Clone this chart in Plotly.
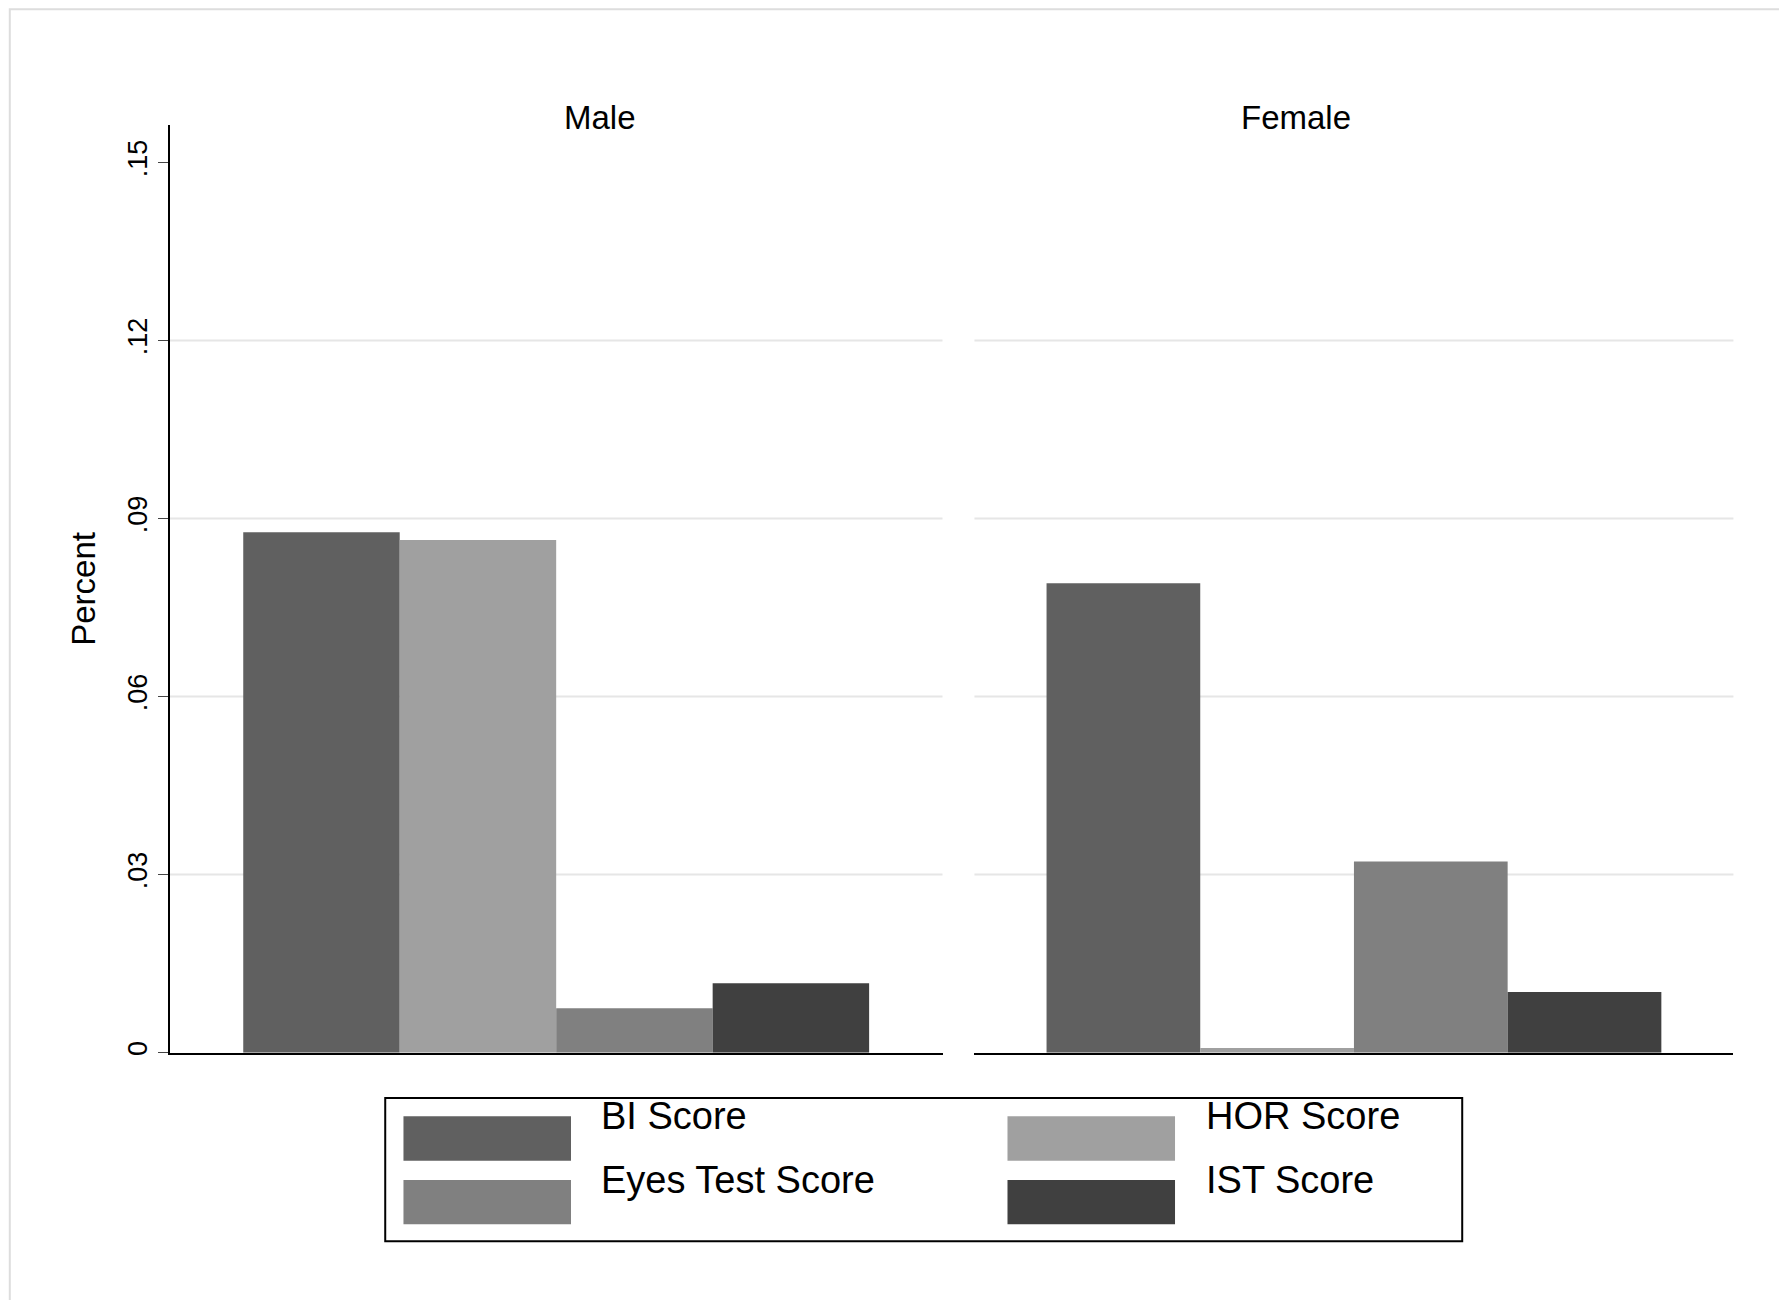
import plotly.graph_objects as go
from plotly.subplots import make_subplots

panels = ["Male", "Female"]
series = ["BI Score", "HOR Score", "Eyes Test Score", "IST Score"]
colors = ["#606060", "#a0a0a0", "#808080", "#404040"]
values = {
    "Male":   [0.0877, 0.0864, 0.0075, 0.0117],
    "Female": [0.0791, 0.0008, 0.0322, 0.0102],
}
tick_vals = [0, 0.03, 0.06, 0.09, 0.12, 0.15]
tick_text = ["0", ".03", ".06", ".09", ".12", ".15"]

W, H = 1568, 1141  # layout reference grid

fig = make_subplots(rows=1, cols=2, shared_yaxes=True, horizontal_spacing=0.018)
for c, p in enumerate(panels, start=1):
    for s, col, v in zip(series, colors, values[p]):
        fig.add_trace(go.Bar(x=[p], y=[v], name=s, marker_color=col,
                             marker_line_width=0, showlegend=False), row=1, col=c)

fig.update_layout(
    width=1787, height=1300, barmode="group", bargap=0.19, bargroupgap=0,
    plot_bgcolor="white", paper_bgcolor="white",
    font=dict(family="Liberation Sans, Arial", color="black"),
    margin=dict(l=0, r=0, t=0, b=0),
    xaxis=dict(domain=[142 / W, 820 / W]),
    xaxis2=dict(domain=[848 / W, 1514 / W]),
)
for ax in ["xaxis", "xaxis2"]:
    fig.layout[ax].update(showticklabels=False, showline=True, linecolor="black",
                          linewidth=1.5, ticks="", showgrid=False)
ydom = [1 - 919 / H, 1 - 103 / H]
fig.update_yaxes(range=[0, 0.1563], domain=ydom, showgrid=False, zeroline=False)
fig.layout.yaxis.update(tickvals=tick_vals, ticktext=tick_text, tickangle=-90,
                        ticks="outside", ticklen=10, tickfont=dict(size=27),
                        showline=True, linecolor="black", linewidth=1.5,
                        title=dict(text="Percent", font=dict(size=33), standoff=18))
fig.layout.yaxis2.update(showticklabels=False, showline=False, ticks="")

# gridlines
for xr in ["x domain", "x2 domain"]:
    for t in tick_vals[1:-1]:
        fig.add_shape(type="line", xref=xr, yref="y", x0=0, x1=1, y0=t, y1=t,
                      line=dict(color="#e6e6e6", width=2), layer="below")

# panel titles
for p, xc in zip(panels, [486, 1180]):
    fig.add_annotation(text=p, x=xc / W, y=1 - 78 / H, xref="paper", yref="paper",
                       showarrow=False, font=dict(size=33))

# legend box
fig.add_shape(type="rect", xref="paper", yref="paper", x0=331 / W, x1=1276 / W,
              y0=1 - 1085 / H, y1=1 - 959 / H, line=dict(color="black", width=2))
pos = [(347, 975), (877, 975), (347, 1031), (877, 1031)]
for s, col, (px, py) in zip(series, colors, pos):
    fig.add_shape(type="rect", xref="paper", yref="paper", x0=px / W, x1=(px + 147) / W,
                  y0=1 - (py + 39) / H, y1=1 - py / H, fillcolor=col, line_width=0)
    fig.add_annotation(text=s, x=(px + 172) / W, y=1 - (py + 20) / H, xref="paper",
                       yref="paper", xanchor="left", showarrow=False, font=dict(size=38))

# outer frame
fig.add_shape(type="rect", xref="paper", yref="paper", x0=0.001, x1=0.999, y0=0.001,
              y1=0.999, line=dict(color="#dddddd", width=2))

fig.write_html("out.html")
